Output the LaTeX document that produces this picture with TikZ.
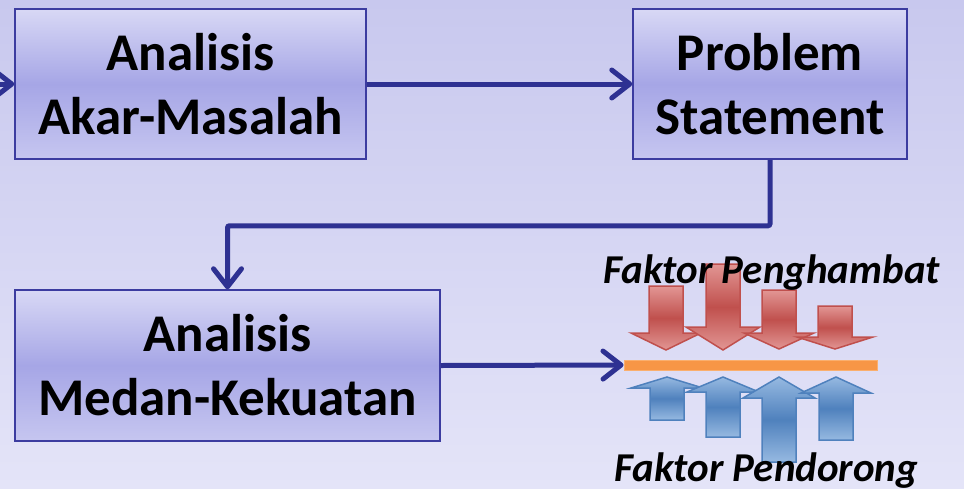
\documentclass[tikz,border=0pt]{standalone}
\usepackage{fontspec}
\setmainfont{Carlito}
\usetikzlibrary{arrows.meta,shadings}
\definecolor{bgtop}{RGB}{200,200,238}
\definecolor{bgbot}{RGB}{228,228,248}
\definecolor{boxtop}{RGB}{216,216,245}
\definecolor{boxmid}{RGB}{166,166,230}
\definecolor{boxbot}{RGB}{198,198,240}
\definecolor{boxline}{RGB}{60,60,160}
\definecolor{navy}{RGB}{46,49,146}
\definecolor{barfill}{RGB}{247,150,70}
\definecolor{barline}{RGB}{250,175,110}
\definecolor{redmid}{RGB}{192,80,77}
\definecolor{redlight}{RGB}{226,150,148}
\definecolor{bluemid}{RGB}{79,129,189}
\definecolor{bluelight}{RGB}{150,185,225}
\tikzset{
  box/.style = {draw = boxline, line width = 1.5pt, top color = boxtop,
    bottom color = boxbot, middle color = boxmid, align = center,
    font = \fontsize{53}{64}\selectfont\bfseries},
  conn/.style = {draw = navy, line width = 5pt,
    -{Straight Barb[length = 18pt, width = 28pt, round]}},
  pushred/.style = {draw = redmid, line width = 1.5pt, top color = redlight,
    bottom color = redlight, middle color = redmid},
  pushblue/.style = {draw = bluemid, line width = 1.5pt, top color = bluelight,
    bottom color = bluelight, middle color = bluemid},
  factor/.style = {anchor = base west, inner sep = 0pt,
    font = \fontsize{41}{46}\selectfont\bfseries\itshape}
}

\begin{document}
\begin{tikzpicture}[x=1pt, y=-1pt]
\shade[top color = bgtop, bottom color = bgbot] (0,0) rectangle (964,488);
\useasboundingbox (0,0) rectangle (964,488);

% the three boxes
\node[box, minimum width = 351pt, minimum height = 150pt] (akar) at (190.5,84) {Analisis\\Akar-Masalah};
\node[box, minimum width = 274pt, minimum height = 150pt] (problem) at (770,84) {Problem\\Statement};
\node[box, minimum width = 425pt, minimum height = 151pt] (medan) at (227.5,365.5) {Analisis\\Medan-Kekuatan};

% the field line
\node[draw = barline, fill = barfill, line width = 1pt, minimum width = 253pt,
  minimum height = 10pt, inner sep = 0pt] (bar) at (750.5,365) {};

% connectors
\coordinate (start) at (-4,84);
\draw[conn] (start) -- (akar.west);
\draw[conn] (akar.east) -- (problem.west);
\draw[conn, rounded corners = 2pt] (problem.south) -- ++(0,66) -| (medan.north);
\draw[conn] (medan.east) -- (bar.west);

% restraining forces
\draw[pushred] (649,286) -- (683,286) -- (683,333) -- (701,333) -- (666,350) -- (631,333) -- (649,333) -- cycle;
\draw[pushred] (706,264) -- (740,264) -- (740,327) -- (760,327) -- (723,350) -- (686,327) -- (706,327) -- cycle;
\draw[pushred] (762,290) -- (796,290) -- (796,333) -- (814,333) -- (779,349) -- (744,333) -- (762,333) -- cycle;
\draw[pushred] (818,306) -- (852,306) -- (852,337) -- (873,337) -- (835,349) -- (797,337) -- (818,337) -- cycle;

% driving forces
\draw[pushblue] (667,377) -- (703,388) -- (684,388) -- (684,420) -- (650,420) -- (650,388) -- (631,388) -- cycle;
\draw[pushblue] (723,377) -- (759,392) -- (740,392) -- (740,437) -- (706,437) -- (706,392) -- (687,392) -- cycle;
\draw[pushblue] (779,377) -- (815,398) -- (796,398) -- (796,462) -- (762,462) -- (762,398) -- (743,398) -- cycle;
\draw[pushblue] (836,377) -- (871,393) -- (853,393) -- (853,440) -- (819,440) -- (819,393) -- (801,393) -- cycle;

\node[factor] (hambat) at (603,283) {Faktor Penghambat};
\node[factor] (dorong) at (614,481) {Faktor Pendorong};
\end{tikzpicture}
\end{document}
